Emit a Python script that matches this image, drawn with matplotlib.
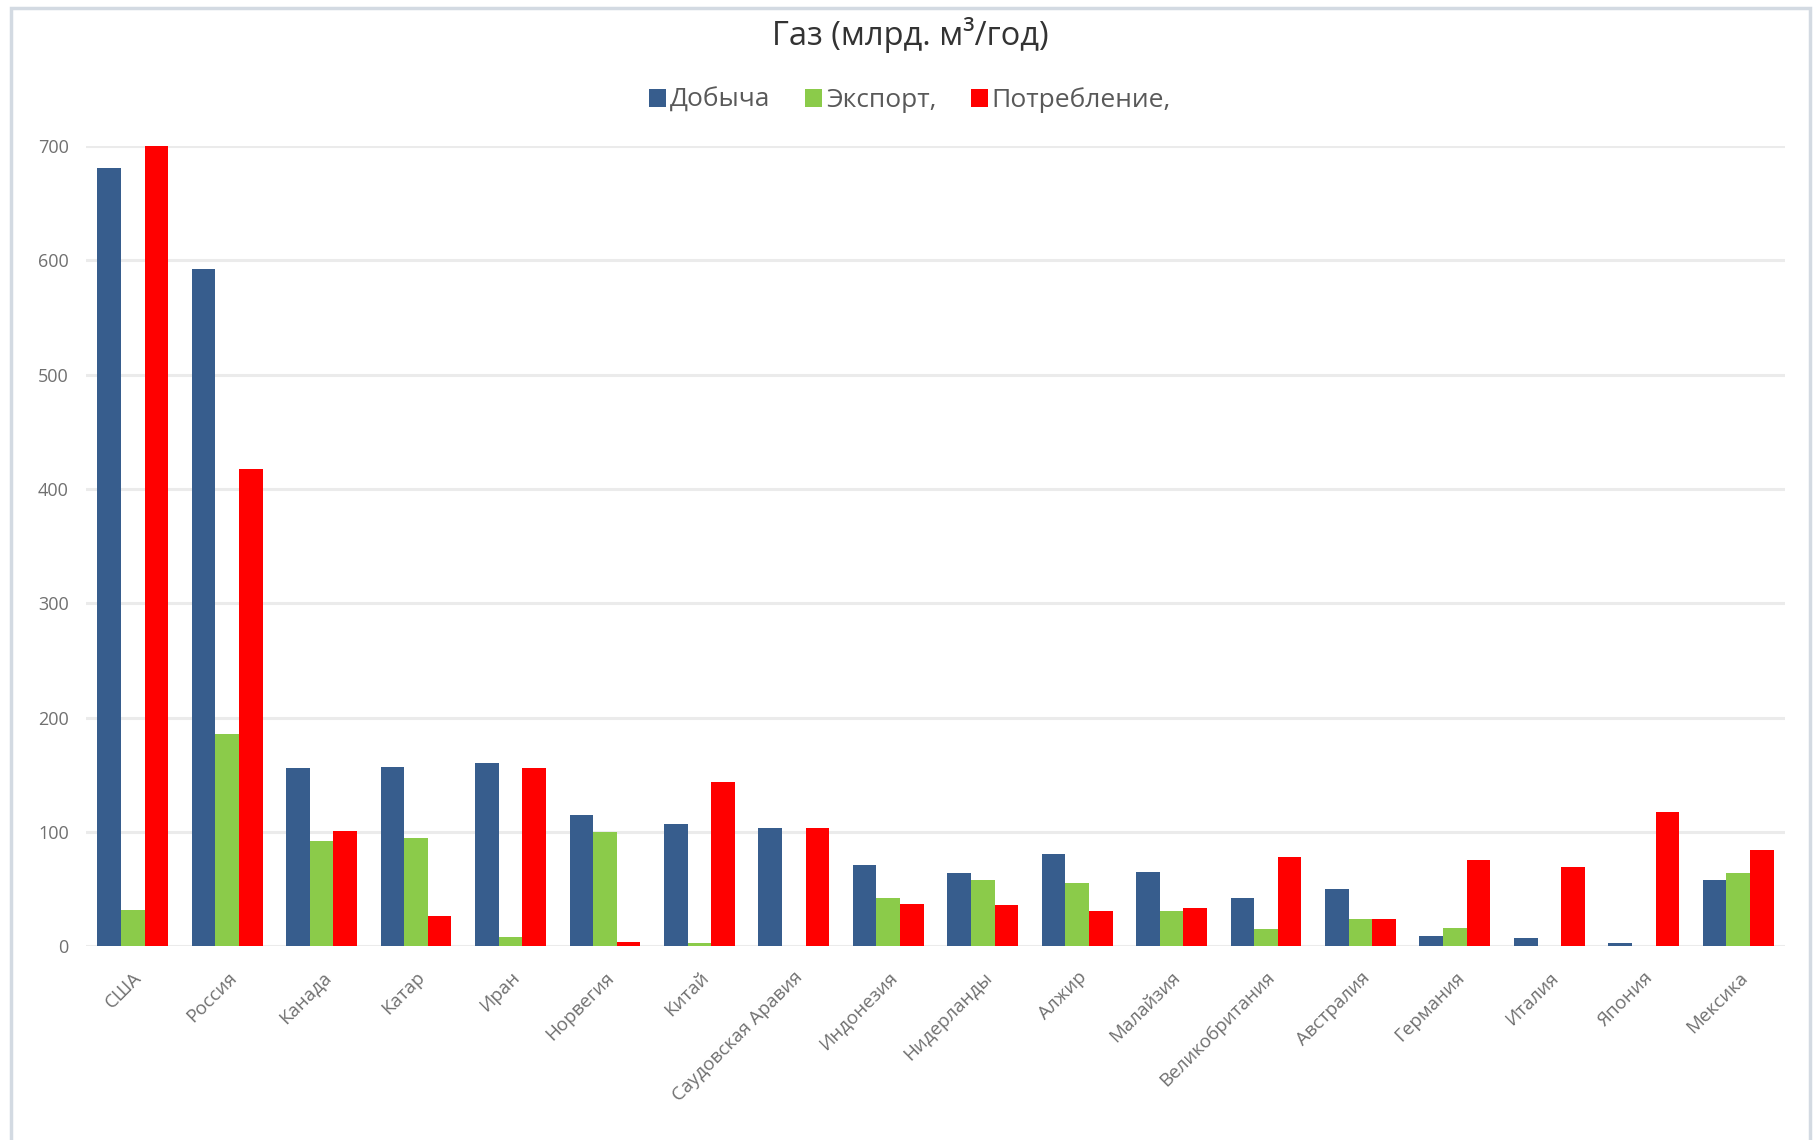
import numpy as np
import matplotlib.pyplot as plt
from matplotlib.patches import Rectangle

plt.rcParams['font.family'] = ['Open Sans', 'DejaVu Sans']

countries = ["США", "Россия", "Канада", "Катар", "Иран", "Норвегия", "Китай",
             "Саудовская Аравия", "Индонезия", "Нидерланды", "Алжир", "Малайзия",
             "Великобритания", "Австралия", "Германия", "Италия", "Япония", "Мексика"]
production = [681, 592, 156, 157, 160, 115, 107, 103, 71, 64, 81, 65, 42, 50, 9, 7, 3, 58]
export = [32, 186, 92, 95, 8, 100, 3, 0, 42, 58, 55, 31, 15, 24, 16, 0, 0, 64]
consumption = [700, 417, 101, 26, 156, 4, 144, 103, 37, 36, 31, 33, 78, 24, 75, 69, 117, 84]

series = [("Добыча", production, "#375d8d"),
          ("Экспорт,", export, "#8bcb4a"),
          ("Потребление,", consumption, "#ff0000")]

fig = plt.figure(figsize=(18.2, 11.4), dpi=100)
ax = fig.add_axes([0.047, 0.170, 0.934, 0.702])

# outer chart frame
fig.patches.append(Rectangle((11 / 1820, -0.01), 1799 / 1820, 1.01 - 8 / 1140,
                             transform=fig.transFigure, fill=False,
                             edgecolor="#d3dae2", linewidth=2.5))

x = np.arange(len(countries))
w = 0.25
for i, (name, vals, color) in enumerate(series):
    ax.bar(x + (i - 1) * w, vals, width=w, color=color, label=name, zorder=3)

ax.set_xlim(-0.5, len(countries) - 0.5)
ax.set_ylim(0, 700)
ax.set_yticks(range(0, 701, 100))
ax.yaxis.grid(True, color="#ebebeb", linewidth=2.2, zorder=0)
for s in ax.spines.values():
    s.set_visible(False)
ax.tick_params(axis="both", length=0, colors="#707070")
ax.tick_params(axis="y", pad=12, labelsize=13)
ax.set_xticks(x)
ax.set_xticklabels(countries, rotation=45, ha="right", va="top",
                   rotation_mode="anchor", fontsize=13.5, color="#707070")
ax.tick_params(axis="x", pad=16)

fig.text(0.5, 0.969, "Газ (млрд. м³/год)", ha="center", va="center",
         fontsize=23.5, color="#333333")
leg = fig.legend(loc="center", bbox_to_anchor=(0.5, 0.912), ncol=3, frameon=False,
                 fontsize=19, handlelength=0.65, handleheight=0.65, handletextpad=0.15,
                 columnspacing=1.3)
for t in leg.get_texts():
    t.set_color("#595959")

fig.savefig("out.png", dpi=100)
